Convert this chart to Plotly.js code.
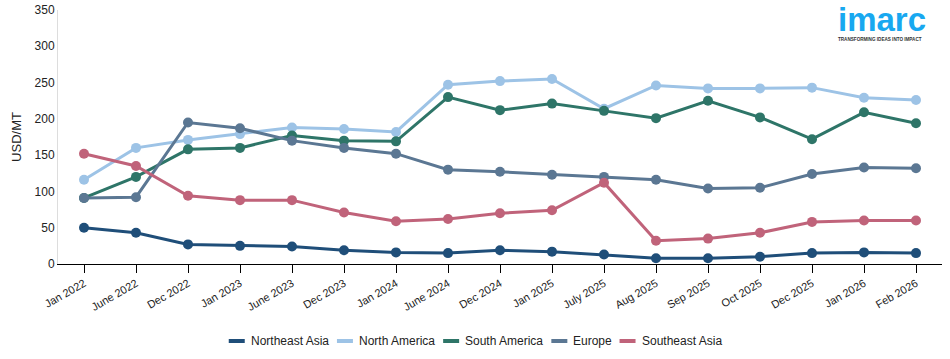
<!DOCTYPE html>
<html><head><meta charset="utf-8">
<script src="https://cdn.plot.ly/plotly-3.0.1.min.js"></script>
<style>body{margin:0;background:#fff}#c{width:950px;height:359px}</style>
</head><body><div id="c"></div>
<script>
const categories = ["Jan 2022","June 2022","Dec 2022","Jan 2023","June 2023","Dec 2023","Jan 2024","June 2024","Dec 2024","Jan 2025","July 2025","Aug 2025","Sep 2025","Oct 2025","Dec 2025","Jan 2026","Feb 2026"];
const northeastAsia = [50,43,27,25,24,19,16,15,19,17,13,8,8,10,15,16,15];
const northAmerica = [116,160,171,179,188,186,182,247,252,255,214,246,242,242,243,229,226];
const southAmerica = [91,120,158,160,177,170,169,230,212,221,211,201,225,202,172,209,194];
const europe = [91,92,195,187,170,160,152,130,127,123,120,116,104,105,124,133,132];
const southeastAsia = [152,135,94,88,88,71,59,62,70,74,112,32,35,43,58,60,60];
const yTicks = [0,50,100,150,200,250,300,350];
const seriesNames = ["Northeast Asia","North America","South America","Europe","Southeast Asia"];

const W = 950, H = 359;
const M = {l:58, r:8, t:10, b:95};
const PW = W - M.l - M.r, PH = H - M.t - M.b;
const px2x = px => (px - M.l) / PW;
const py2y = py => (H - M.b - py) / PH;

const colors = ["#1f4e79","#9dc3e6","#2e7568","#5b7793","#c0637a"];
const values = [northeastAsia, northAmerica, southAmerica, europe, southeastAsia];
const data = seriesNames.map((n, i) => ({
  type:"scatter", mode:"lines+markers", name:n, x:categories, y:values[i],
  line:{color:colors[i], width:3}, marker:{color:colors[i], size:10}, showlegend:false
}));

// custom legend (short thick line + label), centred on the page
const ctx = document.createElement("canvas").getContext("2d");
ctx.font = "12px 'Liberation Sans', Arial, sans-serif";
const symW = 16, symGap = 5, itemGap = 8.5, legY = 341;
const widths = seriesNames.map(n => ctx.measureText(n).width);
const total = widths.reduce((a, w) => a + symW + symGap + w, 0) + itemGap * (seriesNames.length - 1);
let cx = W / 2 - total / 2;
const shapes = [], annotations = [];
seriesNames.forEach((n, i) => {
  shapes.push({type:"line", xref:"paper", yref:"paper",
    x0:px2x(cx), x1:px2x(cx + symW), y0:py2y(legY), y1:py2y(legY),
    line:{color:colors[i], width:4}});
  annotations.push({xref:"paper", yref:"paper", x:px2x(cx + symW + symGap), y:py2y(legY),
    xanchor:"left", yanchor:"middle", text:n, showarrow:false, borderpad:0,
    font:{size:12, color:"#222"}});
  cx += symW + symGap + widths[i] + itemGap;
});
annotations.push(
  {xref:"paper", yref:"paper", x:px2x(881.5), y:py2y(19), xanchor:"center", yanchor:"middle",
   text:"<b>imarc</b>", showarrow:false, borderpad:0,
   font:{size:33, color:"#18a8f0", family:"Liberation Sans, Arial"}},
  {xref:"paper", yref:"paper", x:px2x(879.5), y:py2y(39.5), xanchor:"center", yanchor:"middle",
   text:"<b>TRANSFORMING IDEAS INTO IMPACT</b>", showarrow:false, borderpad:0,
   font:{size:4.6, color:"#333"}}
);

const layout = {
  width:W, height:H,
  margin:M,
  font:{family:"Liberation Sans, Arial, sans-serif", size:12, color:"#222"},
  paper_bgcolor:"#fff", plot_bgcolor:"#fff",
  showlegend:false,
  xaxis:{type:"category", range:[-0.5,16.5], showgrid:false, zeroline:false, automargin:false,
    showline:true, linecolor:"#000", linewidth:1, ticks:"outside", ticklen:8, tickcolor:"#000",
    tickangle:-30, tickfont:{size:11}},
  yaxis:{range:[0,350], tickvals:yTicks, showgrid:false, zeroline:false, automargin:false,
    showline:true, linecolor:"#ddd", linewidth:1, ticks:"", tickfont:{size:12},
    title:{text:"USD/MT", font:{size:13}, standoff:10}},
  shapes:shapes,
  annotations:annotations
};
Plotly.newPlot("c", data, layout, {displayModeBar:false});
</script></body></html>
